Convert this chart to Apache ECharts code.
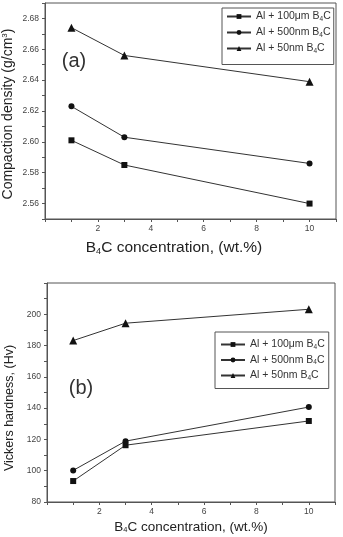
<!DOCTYPE html>
<html>
<head>
<meta charset="utf-8">
<script src="https://cdn.jsdelivr.net/npm/echarts@6/dist/echarts.min.js"></script>
<style>
	html, body { margin: 0; padding: 0; background: #fff; }
	#chart { width: 343px; height: 537px; }
</style>
</head>
<body>
<div id="chart"></div>
<script>
	// B4C concentration (wt.%)
	var concentration = [1, 3, 10];
	var seriesNames = ['Al + 100μm B4C', 'Al + 500nm B4C', 'Al + 50nm B4C'];
	var symbols = ['rect', 'circle', 'triangle'];

	// (a) compaction density, g/cm3
	var density100um = [2.601, 2.585, 2.560];
	var density500nm = [2.623, 2.603, 2.586];
	var density50nm = [2.674, 2.656, 2.639];

	// (b) Vickers hardness, Hv
	var hardness100um = [93.4, 116.3, 131.8];
	var hardness500nm = [100.2, 118.9, 140.7];
	var hardness50nm = [183.2, 194.3, 203.2];

	var xTickLabels = ['2', '4', '6', '8', '10'];
	var densityTickLabels = ['2.56', '2.58', '2.60', '2.62', '2.64', '2.66', '2.68'];
	var hardnessTickLabels = ['80', '100', '120', '140', '160', '180', '200'];

	var font = "'Liberation Sans', Arial, sans-serif";
	var lineColor = '#333';
	var axisColor = '#555';

	function pairs(ys) {
		return concentration.map(function (x, i) { return [x, ys[i]]; });
	}

	// show only the labels that appear in the figure
	function pickLabel(list, digits) {
		return function (v) {
			var s = digits ? v.toFixed(digits) : String(Math.round(v));
			return list.indexOf(s) >= 0 ? s : '';
		};
	}

	function xAxisFor(gridIndex) {
		return {
			type: 'value', gridIndex: gridIndex, min: 0, max: 11, interval: 1,
			axisLine: { lineStyle: { color: axisColor, width: 1 } },
			axisTick: { inside: false, length: 3, lineStyle: { color: axisColor } },
			axisLabel: { formatter: pickLabel(xTickLabels, 0), fontSize: 8.5, color: '#444', margin: 5, fontFamily: font },
			splitLine: { show: false }
		};
	}

	function legendFor(top, left, gap, padding) {
		return {
			orient: 'vertical', left: left, top: top,
			data: seriesNames,
			itemWidth: 24, itemHeight: 6, itemGap: gap,
			padding: padding,
			borderColor: axisColor, borderWidth: 1, backgroundColor: '#fff',
			formatter: function (name) {
				var parts = name.split('B4C');
				return '{t|' + parts[0] + 'B}{s|4}{t|C}';
			},
			textStyle: {
				color: '#333', fontFamily: font,
				rich: {
					t: { fontSize: 10.5, fontFamily: font, color: '#333', lineHeight: 12 },
					s: { fontSize: 6.5, fontFamily: font, color: '#333', verticalAlign: 'bottom', lineHeight: 12, padding: [4, 0, 0, 0] }
				}
			}
		};
	}

	function lineSeries(name, data, symbol, idx) {
		return {
			name: name, type: 'line', data: data,
			xAxisIndex: idx, yAxisIndex: idx,
			symbol: symbol, symbolSize: symbol === 'triangle' ? 8 : 6,
			lineStyle: { color: lineColor, width: 1 },
			itemStyle: { color: '#111' },
			animation: false
		};
	}

	var chart = echarts.init(document.getElementById('chart'));
	chart.setOption({
		backgroundColor: '#fff',
		animation: false,
		grid: [
			{ left: 45, right: 7, top: 3, height: 216, show: true, borderColor: axisColor, borderWidth: 1 },
			{ left: 47, right: 8, top: 283, height: 219, show: true, borderColor: axisColor, borderWidth: 1 }
		],
		xAxis: [xAxisFor(0), xAxisFor(1)],
		yAxis: [
			{
				type: 'value', gridIndex: 0, min: 2.55, max: 2.69, interval: 0.01,
				axisLine: { show: true, lineStyle: { color: axisColor } },
				axisTick: { show: true, length: 3, lineStyle: { color: axisColor } },
				axisLabel: { formatter: pickLabel(densityTickLabels, 2), fontSize: 8.5, color: '#444', margin: 6, fontFamily: font },
				splitLine: { show: false }
			},
			{
				type: 'value', gridIndex: 1, min: 80, max: 220, interval: 10,
				axisLine: { show: true, lineStyle: { color: axisColor } },
				axisTick: { show: true, length: 3, lineStyle: { color: axisColor } },
				axisLabel: { formatter: pickLabel(hardnessTickLabels, 0), fontSize: 8.5, color: '#444', margin: 6, fontFamily: font },
				splitLine: { show: false }
			}
		],
		legend: [
			legendFor(8, 222, 4.5, [3, 3, 10, 4]),
			legendFor(332, 215, 4, [7, 4, 7, 5])
		],
		series: [
			lineSeries(seriesNames[0], pairs(density100um), symbols[0], 0),
			lineSeries(seriesNames[1], pairs(density500nm), symbols[1], 0),
			lineSeries(seriesNames[2], pairs(density50nm), symbols[2], 0),
			lineSeries(seriesNames[0], pairs(hardness100um), symbols[0], 1),
			lineSeries(seriesNames[1], pairs(hardness500nm), symbols[1], 1),
			lineSeries(seriesNames[2], pairs(hardness50nm), symbols[2], 1)
		],
		graphic: [
			{ type: 'text', x: 74, y: 61, style: { text: '(a)', font: '20px ' + font, fill: '#333', align: 'center', verticalAlign: 'middle' } },
			{ type: 'text', x: 81, y: 388, style: { text: '(b)', font: '20px ' + font, fill: '#333', align: 'center', verticalAlign: 'middle' } },
			{
				type: 'text', x: 174, y: 248,
				style: {
					text: '{t|B}{s|4}{t|C concentration, (wt.%)}', align: 'center', verticalAlign: 'middle',
					rich: {
						t: { fontSize: 15.5, fontFamily: font, fill: '#222', lineHeight: 18 },
						s: { fontSize: 9, fontFamily: font, fill: '#222', lineHeight: 18, padding: [7, 0, 0, 0] }
					}
				}
			},
			{
				type: 'text', x: 191, y: 527,
				style: {
					text: '{t|B}{s|4}{t|C concentration, (wt.%)}', align: 'center', verticalAlign: 'middle',
					rich: {
						t: { fontSize: 13.5, fontFamily: font, fill: '#222', lineHeight: 15 },
						s: { fontSize: 7.5, fontFamily: font, fill: '#222', lineHeight: 15, padding: [6, 0, 0, 0] }
					}
				}
			},
			{
				type: 'text', x: 8, y: 114, rotation: Math.PI / 2,
				style: {
					text: '{t|Compaction density (g/cm}{p|3}{t|)}', align: 'center', verticalAlign: 'middle',
					rich: {
						t: { fontSize: 14, fontFamily: font, fill: '#222', lineHeight: 16 },
						p: { fontSize: 8, fontFamily: font, fill: '#222', lineHeight: 16, padding: [0, 0, 6, 0] }
					}
				}
			},
			{
				type: 'text', x: 10, y: 408, rotation: Math.PI / 2,
				style: { text: 'Vickers hardness, (Hv)', font: '12.5px ' + font, fill: '#222', align: 'center', verticalAlign: 'middle' }
			}
		]
	});
</script>
</body>
</html>
